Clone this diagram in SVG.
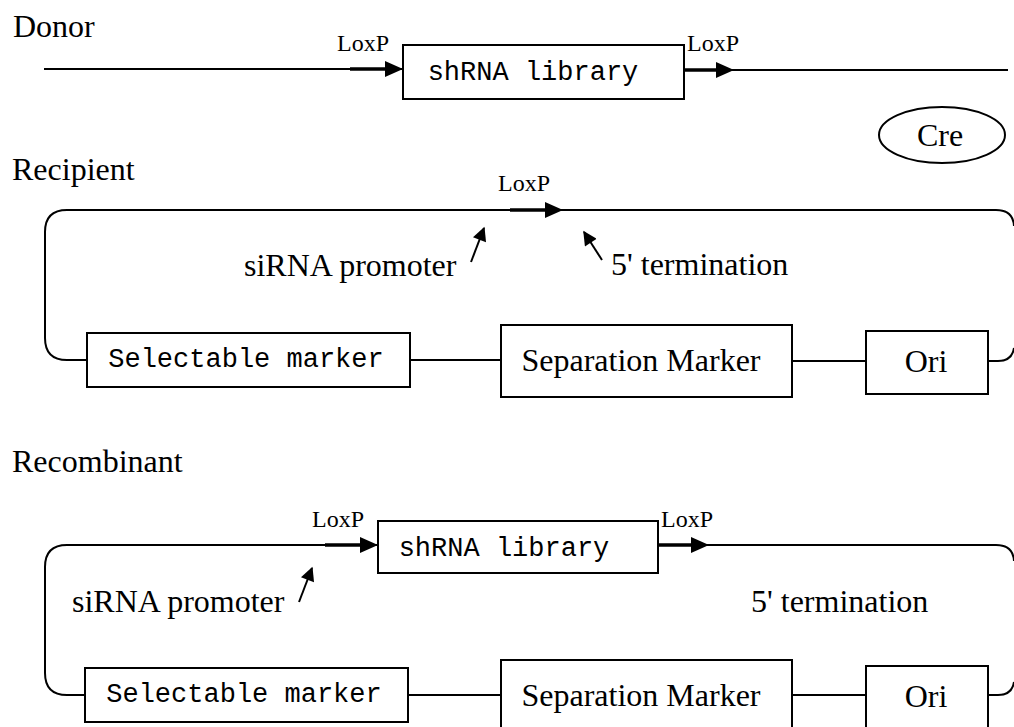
<svg xmlns="http://www.w3.org/2000/svg" width="1014" height="727" viewBox="0 0 1014 727">
<defs>
<style>
.ser{font-family:"Liberation Serif","Times New Roman",serif;fill:#000}
.big{font-size:32px}
.lox{font-size:24px}
.mono{font-family:"Liberation Mono","Courier New",monospace;font-size:27px;fill:#000}
.box{fill:#fff;stroke:#000;stroke-width:2}
.ln{fill:none;stroke:#000;stroke-width:2}
.thick{fill:none;stroke:#000;stroke-width:3.5}
.head{fill:#000;stroke:none}
</style>
<marker id="ah2" viewBox="0 0 10 10" refX="9" refY="5" markerWidth="16" markerHeight="14" markerUnits="userSpaceOnUse" orient="auto">
<path d="M0,0 L10,5 L0,10 Z" fill="#000"/>
</marker>
</defs>
<rect width="1014" height="727" fill="#fff"/>

<g id="labels">
<text class="ser big" x="13" y="37">Donor</text>
<text class="ser big" x="12" y="180">Recipient</text>
<text class="ser big" x="12" y="472">Recombinant</text>
</g>

<g id="connectors">
<line class="ln" x1="44" y1="69" x2="403" y2="69"/>
<line class="thick" x1="350" y1="69" x2="390" y2="69"/>
<path class="head" d="M385,61 L403,69 L385,77 Z"/>
<line class="ln" x1="684" y1="70" x2="1008" y2="70"/>
<line class="thick" x1="684" y1="70" x2="722" y2="70"/>
<path class="head" d="M716,62 L734,70 L716,78 Z"/>

<path class="ln" d="M87,360 H67 Q45,360 45,338 V232 Q45,210 67,210 H996 Q1013,210 1014,226"/>
<line class="thick" x1="510" y1="210" x2="550" y2="210"/>
<path class="head" d="M545,202 L563,210 L545,218 Z"/>
<line class="ln" x1="410" y1="360" x2="501" y2="360"/>
<line class="ln" x1="792" y1="361" x2="866" y2="361"/>
<path class="ln" d="M988,361 H998 Q1012,361 1014,348"/>
<line class="ln" x1="471" y1="262" x2="484" y2="228" marker-end="url(#ah2)"/>
<line class="ln" x1="602" y1="260" x2="584" y2="232" marker-end="url(#ah2)"/>

<path class="ln" d="M85,695 H67 Q45,695 45,673 V567 Q45,545 67,545 H378"/>
<line class="thick" x1="325" y1="545" x2="362" y2="545"/>
<path class="head" d="M360,537 L378,545 L360,553 Z"/>
<path class="ln" d="M658,545 H996 Q1013,545 1014,561"/>
<line class="thick" x1="658" y1="545" x2="695" y2="545"/>
<path class="head" d="M691,537 L709,545 L691,553 Z"/>
<line class="ln" x1="408" y1="695" x2="501" y2="695"/>
<line class="ln" x1="792" y1="695" x2="866" y2="695"/>
<path class="ln" d="M988,695 H998 Q1012,695 1014,682"/>
<line class="ln" x1="299" y1="602" x2="312" y2="568" marker-end="url(#ah2)"/>
</g>

<g id="donor-loxp-left"><text class="ser lox" x="337" y="51">LoxP</text></g>
<g id="donor-shrna">
<rect class="box" x="403" y="45" width="281" height="54"/>
<text class="mono" x="533" y="80" text-anchor="middle">shRNA library</text>
</g>
<g id="donor-loxp-right"><text class="ser lox" x="687" y="51">LoxP</text></g>

<g id="cre">
<ellipse cx="942" cy="135" rx="63" ry="28" fill="#fff" stroke="#000" stroke-width="2"/>
<text class="ser big" x="940" y="146" text-anchor="middle">Cre</text>
</g>

<g id="recipient-loxp"><text class="ser lox" x="498" y="191">LoxP</text></g>
<g id="recipient-promoter"><text class="ser big" x="244" y="276">siRNA promoter</text></g>
<g id="recipient-termination"><text class="ser big" x="611" y="275">5' termination</text></g>
<g id="recipient-selectable">
<rect class="box" x="87" y="333" width="323" height="54"/>
<text class="mono" x="246" y="367" text-anchor="middle">Selectable marker</text>
</g>
<g id="recipient-separation">
<rect class="box" x="501" y="325" width="291" height="72"/>
<text class="ser big" x="641" y="371" text-anchor="middle">Separation Marker</text>
</g>
<g id="recipient-ori">
<rect class="box" x="866" y="331" width="122" height="63"/>
<text class="ser big" x="926" y="372" text-anchor="middle">Ori</text>
</g>

<g id="recombinant-loxp-left"><text class="ser lox" x="312" y="527">LoxP</text></g>
<g id="recombinant-shrna">
<rect class="box" x="378" y="521" width="280" height="52"/>
<text class="mono" x="504" y="556" text-anchor="middle">shRNA library</text>
</g>
<g id="recombinant-loxp-right"><text class="ser lox" x="661" y="527">LoxP</text></g>
<g id="recombinant-promoter"><text class="ser big" x="72" y="612">siRNA promoter</text></g>
<g id="recombinant-termination"><text class="ser big" x="751" y="612">5' termination</text></g>
<g id="recombinant-selectable">
<rect class="box" x="85" y="668" width="323" height="54"/>
<text class="mono" x="244" y="702" text-anchor="middle">Selectable marker</text>
</g>
<g id="recombinant-separation">
<rect class="box" x="501" y="660" width="291" height="80"/>
<text class="ser big" x="641" y="706" text-anchor="middle">Separation Marker</text>
</g>
<g id="recombinant-ori">
<rect class="box" x="866" y="666" width="122" height="80"/>
<text class="ser big" x="926" y="707" text-anchor="middle">Ori</text>
</g>
</svg>
